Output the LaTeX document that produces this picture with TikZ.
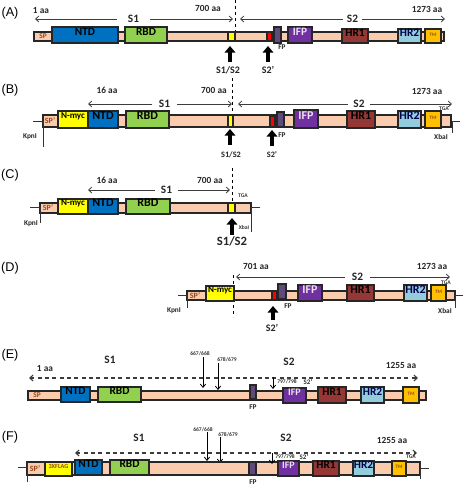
\documentclass[tikz,border=0pt]{standalone}
\usepackage{fontspec}
\setmainfont{Carlito}
\newfontfamily\arialf{Liberation Sans}
\usetikzlibrary{arrows.meta,fit}
\definecolor{peach}{RGB}{250,203,172}
\definecolor{ntdc}{RGB}{0,112,192}
\definecolor{rbdc}{RGB}{146,208,80}
\definecolor{ifpc}{RGB}{112,48,160}
\definecolor{hronec}{RGB}{149,55,53}
\definecolor{hrtwoc}{RGB}{147,205,221}
\definecolor{tmc}{RGB}{255,192,0}
\definecolor{fpc}{RGB}{96,74,123}
\definecolor{ylw}{RGB}{255,255,0}
\definecolor{spc}{RGB}{150,75,30}
\definecolor{arrc}{RGB}{60,60,60}
\newcommand\segm[5][]{\node[segbox,#1,fit={(#3) (#4)}] (#2) {#5};}
\begin{document}
\begin{tikzpicture}[x=0.75pt,y=-0.75pt,
  segbox/.style={draw=black!85, line width=0.85pt, inner sep=0pt, outer sep=0pt, font=\bfseries\fontsize{8.5}{8.5}\selectfont},
  bar/.style={fill=peach},
  ntd/.style={fill=ntdc, text=black},
  rbd/.style={fill=rbdc, text=black},
  ifp/.style={fill=ifpc, text=white!85!ifpc},
  hrone/.style={fill=hronec, text=black},
  hrtwo/.style={fill=hrtwoc, text=black!70!blue},
  tm/.style={fill=tmc, text=spc, font=\bfseries\fontsize{3.8}{3.8}\selectfont},
  fp/.style={fill=fpc},
  ylwb/.style={fill=ylw, text=black},
  redb/.style={fill=red},
  plab/.style={font=\arialf\fontsize{9.5}{9.5}\selectfont, inner sep=0pt},
  aa/.style={font=\bfseries\fontsize{7}{7}\selectfont, inner sep=0pt, text=black!85},
  slab/.style={font=\bfseries\fontsize{8.5}{8.5}\selectfont, inner sep=0pt, outer sep=0pt, text=black!85},
  sp/.style={font=\bfseries\fontsize{5.5}{5.5}\selectfont, inner sep=0pt, text=spc},
  small/.style={font=\bfseries\fontsize{5.5}{5.5}\selectfont, inner sep=0pt, text=black!85},
  tiny/.style={font=\bfseries\fontsize{4.2}{4.2}\selectfont, inner sep=0pt, text=black!80},
  cut/.style={font=\bfseries\fontsize{7.5}{7.5}\selectfont, inner sep=0pt, text=black!85},
  dbl/.style={draw=arrc, line width=0.6pt, -{Straight Barb[length=2.5pt,width=4.5pt]}},
  dsh/.style={draw=black, line width=0.7pt, dash pattern=on 2.5pt off 2pt},
  dshar/.style={draw=arrc, line width=0.8pt, dash pattern=on 3pt off 2.5pt, {Straight Barb[length=2.5pt,width=4.5pt]}-{Straight Barb[length=2.5pt,width=4.5pt]}},
  dn/.style={draw=black, line width=0.6pt, -{Straight Barb[length=2.5pt,width=4pt]}},
  bigup/.style={draw=black, line width=3.2pt, -{Triangle[length=5pt,width=8pt]}},
  thin/.style={draw=black!80, line width=0.7pt}
]
\useasboundingbox (0,0) rectangle (467,486);

%%%%%%%%%%%%%%%% Panel A
\node[plab] (A) at (10,13) {(A)};
\node[aa] (a1aa) at (41,11) {1 aa};
\node[aa] (a700) at (208,8) {700 aa};
\node[aa] (a1273) at (427,9) {1273 aa};
\node[slab, minimum width=24.75pt] (aS1) at (133.5,19) {S1};
\coordinate (aS1l) at (35,19); \coordinate (aS1r) at (233,19);
\draw[dbl] (aS1) -- (aS1l); \draw[dbl] (aS1) -- (aS1r);
\node[slab, minimum width=14.25pt] (aS2) at (352.5,19) {S2};
\coordinate (aS2l) at (240,19); \coordinate (aS2r) at (445,19);
\draw[dbl] (aS2) -- (aS2l); \draw[dbl] (aS2) -- (aS2r);
\coordinate (aDt) at (235,0); \coordinate (aDb) at (235,32);
\draw[dsh] (aDt) -- (aDb);
\segm[bar]{aBar}{34,32}{444,41}{}
\node[sp] (aSP) at (43,36.5) {SP};
\segm[ntd]{aNTD}{52,27}{118,43}{NTD}
\segm[rbd]{aRBD}{125,27}{167,43}{RBD}
\segm[ylwb]{aCl}{228,32}{235,41}{}
\segm[redb]{aRed}{267,32}{272,41}{}
\segm[fp]{aFP}{274,27}{281,43}{}
\node[small] (aFPl) at (282,47) {FP};
\segm[ifp]{aIFP}{288,27}{312,43}{IFP}
\segm[hrone]{aHR1}{342,29}{368,43}{HR1}
\segm[hrtwo]{aHR2}{398,29}{421,43}{HR2}
\segm[tm]{aTM}{425,29}{441,43}{TM}
\coordinate (aU1b) at (230,62); \coordinate (aU1t) at (230,46);
\draw[bigup] (aU1b) -- (aU1t);
\node[cut] (aU1l) at (228,70) {S1/S2};
\coordinate (aU2b) at (268,62); \coordinate (aU2t) at (268,46);
\draw[bigup] (aU2b) -- (aU2t);
\node[cut] (aU2l) at (268,70) {S2’};

%%%%%%%%%%%%%%%% Panel B
\begin{scope}[segbox/.append style={font=\bfseries\fontsize{9}{9}\selectfont}]
\node[plab] (B) at (10,90) {(B)};
\node[aa] (b16) at (107,90) {16 aa};
\node[aa] (b700) at (214,90) {700 aa};
\node[aa] (b1273) at (427,91) {1273 aa};
\node[slab, minimum width=18.75pt] (bS1) at (164.5,104) {S1};
\coordinate (bS1l) at (88,104); \coordinate (bS1r) at (232,104);
\draw[dbl] (bS1) -- (bS1l); \draw[dbl] (bS1) -- (bS1r);
\node[slab, minimum width=16.5pt] (bS2) at (359,104) {S2};
\coordinate (bS2l) at (238,104); \coordinate (bS2r) at (452,104);
\draw[dbl] (bS2) -- (bS2l); \draw[dbl] (bS2) -- (bS2r);
\coordinate (bDt) at (232,78); \coordinate (bDb) at (232,115);
\draw[dsh] (bDt) -- (bDb);
\segm[bar]{bBar}{43,115}{451,127}{}
\coordinate (bKl) at (33,121); \coordinate (bKc) at (43,121); \coordinate (bKb) at (43,147);
\draw[thin] (bKl) -- (bKc) -- (bKb);
\node[small] (bKpn) at (30,137) {KpnI};
\node[sp, font=\bfseries\fontsize{6}{6}\selectfont] (bSP) at (50,121) {SP’};
\segm[ylwb, font=\bfseries\fontsize{6.8}{6.8}\selectfont]{bMyc}{58,111}{88,128}{N-myc}
\segm[ntd]{bNTD}{88,111}{118,128}{NTD}
\segm[rbd]{bRBD}{126,111}{169,128}{RBD}
\segm[ylwb]{bCl}{228,115}{233,127}{}
\segm[redb]{bRed}{270,116}{275,127}{}
\segm[fp]{bFP}{277,112}{284,127}{}
\node[small] (bFPl) at (282,135) {FP};
\segm[ifp]{bIFP}{294,110}{318,128}{IFP}
\segm[hrone]{bHR1}{347,111}{375,128}{HR1}
\segm[hrtwo]{bHR2}{398,111}{421,128}{HR2}
\segm[tm]{bTM}{425,111}{441,128}{TM}
\coordinate (bXr) at (460,121); \coordinate (bXc) at (452,121); \coordinate (bXb) at (452,133);
\draw[thin] (bXr) -- (bXc) -- (bXb);
\node[tiny] (bTGA) at (444,109) {TGA};
\node[small] (bXba) at (441,137) {XbaI};
\coordinate (bU1b) at (230,145); \coordinate (bU1t) at (230,129);
\draw[bigup] (bU1b) -- (bU1t);
\node[small, font=\bfseries\fontsize{6.2}{6.2}\selectfont] (bU1l) at (231,155) {S1/S2};
\coordinate (bU2b) at (272,146); \coordinate (bU2t) at (272,130);
\draw[bigup] (bU2b) -- (bU2t);
\node[small, font=\bfseries\fontsize{6.2}{6.2}\selectfont] (bU2l) at (272,155) {S2’};
\end{scope}

%%%%%%%%%%%%%%%% Panel C
\begin{scope}[segbox/.append style={font=\bfseries\fontsize{9}{9}\selectfont}]
\node[plab] (C) at (10,175) {(C)};
\node[aa] (c16) at (107,180) {16 aa};
\node[aa] (c700) at (210,180) {700 aa};
\node[slab, minimum width=17.25pt] (cS1) at (166.5,190) {S1};
\coordinate (cS1l) at (88,190); \coordinate (cS1r) at (230,190);
\draw[dbl] (cS1) -- (cS1l); \draw[dbl] (cS1) -- (cS1r);
\coordinate (cDt) at (232,168); \coordinate (cDb) at (232,203);
\draw[dsh] (cDt) -- (cDb);
\segm[bar]{cBar}{40,203}{251,213}{}
\coordinate (cKl) at (30,207); \coordinate (cKc) at (40,207); \coordinate (cKb) at (40,223);
\draw[thin] (cKl) -- (cKc) -- (cKb);
\node[small] (cKpn) at (31,224) {KpnI};
\node[sp, font=\bfseries\fontsize{6}{6}\selectfont] (cSP) at (48,208) {SP’};
\segm[ylwb, font=\bfseries\fontsize{6.8}{6.8}\selectfont]{cMyc}{58,199}{88,214}{N-myc}
\segm[ntd]{cNTD}{88,199}{118,214}{NTD}
\segm[rbd]{cRBD}{126,199}{170,214}{RBD}
\segm[ylwb]{cCl}{228,203}{235,213}{}
\coordinate (cXr) at (260,207); \coordinate (cXc) at (251,207); \coordinate (cXb) at (251,232);
\draw[thin] (cXr) -- (cXc) -- (cXb);
\node[tiny] (cTGA) at (243,196) {TGA};
\node[tiny] (cXba) at (244,228) {XbaI};
\coordinate (cU1b) at (232,235); \coordinate (cU1t) at (232,218);
\draw[bigup] (cU1b) -- (cU1t);
\node[cut, font=\bfseries\fontsize{9.5}{9.5}\selectfont] (cU1l) at (232,241) {S1/S2};
\end{scope}

%%%%%%%%%%%%%%%% Panel D
\begin{scope}[segbox/.append style={font=\bfseries\fontsize{9}{9}\selectfont}]
\node[plab] (D) at (10,268) {(D)};
\node[aa] (d701) at (256,266) {701 aa};
\node[aa] (d1273) at (432,266) {1273 aa};
\node[slab, minimum width=18.75pt] (dS2) at (357.5,277) {S2};
\coordinate (dS2l) at (236,277); \coordinate (dS2r) at (450,277);
\draw[dbl] (dS2) -- (dS2l); \draw[dbl] (dS2) -- (dS2r);
\coordinate (dDt) at (233,275); \coordinate (dDb) at (233,317);
\draw[dsh] (dDt) -- (dDb);
\segm[bar]{dBar}{187,291}{455,300}{}
\coordinate (dKl) at (178,295); \coordinate (dKc) at (187,295); \coordinate (dKb) at (187,308);
\draw[thin] (dKl) -- (dKc) -- (dKb);
\node[small] (dKpn) at (174,311) {KpnI};
\node[sp, font=\bfseries\fontsize{6}{6}\selectfont] (dSP) at (195,296) {SP’};
\segm[ylwb, font=\bfseries\fontsize{6.8}{6.8}\selectfont]{dMyc}{206,286}{234,301}{N-myc}
\segm[redb]{dRed}{272,291}{277,300}{}
\segm[fp]{dFP}{278,284}{286,299}{}
\node[small] (dFPl) at (288,306) {FP};
\segm[ifp]{dIFP}{298,285}{322,301}{IFP}
\segm[hrone]{dHR1}{347,285}{374,301}{HR1}
\segm[hrtwo]{dHR2}{404,285}{427,301}{HR2}
\segm[tm]{dTM}{431,285}{446,301}{TM}
\coordinate (dXr) at (463,295); \coordinate (dXc) at (455,295); \coordinate (dXb) at (455,308);
\draw[thin] (dXr) -- (dXc) -- (dXb);
\node[tiny] (dTGA) at (446,283) {TGA};
\node[small] (dXba) at (445,311) {XbaI};
\coordinate (dU2b) at (273,320); \coordinate (dU2t) at (273,306);
\draw[bigup] (dU2b) -- (dU2t);
\node[cut] (dU2l) at (272,328) {S2’};
\end{scope}

%%%%%%%%%%%%%%%% Panel E
\begin{scope}[segbox/.append style={font=\bfseries\fontsize{8.5}{8.5}\selectfont}]
\node[plab] (E) at (10,355) {(E)};
\node[aa] (e1aa) at (45,368) {1 aa};
\node[slab] (eS1) at (110,360) {S1};
\node[slab] (eS2) at (289,362) {S2};
\node[aa] (e1255) at (401,365) {1255 aa};
\coordinate (eDl) at (29,378); \coordinate (eDr) at (418,378);
\draw[dshar] (eDl) -- (eDr);
\node[tiny] (e667) at (200,354) {667/668};
\coordinate (e667t) at (203,357); \coordinate (e667b) at (203,388);
\draw[dn] (e667t) -- (e667b);
\node[tiny] (e678) at (227,360) {678/679};
\coordinate (e678t) at (218,363); \coordinate (e678b) at (218,390);
\draw[dn] (e678t) -- (e678b);
\segm[bar]{eBar}{28,391}{426,400}{}
\node[sp] (eSP) at (37,395.5) {SP};
\segm[ntd]{eNTD}{61,387}{90,402}{NTD}
\segm[rbd]{eRBD}{98,387}{141,402}{RBD}
\segm[fp]{eFP}{250,385}{256,399}{}
\node[small] (eFPl) at (253,407) {FP};
\segm[ifp, font=\bfseries\fontsize{7.5}{7.5}\selectfont]{eIFP}{283,388}{306,403}{IFP}
\segm[hrone]{eHR1}{318,387}{346,403}{HR1}
\segm[hrtwo]{eHR2}{361,387}{384,403}{HR2}
\segm[tm]{eTM}{403,387}{419,403}{TM}
\coordinate (e797t) at (273,377); \coordinate (e797b) at (273,389);
\draw[dn] (e797t) -- (e797b);
\node[tiny] (e797) at (287,382) {797/798};
\node[tiny, font=\bfseries\fontsize{5.2}{5.2}\selectfont] (eS2p) at (308,382) {S2’};
\end{scope}

%%%%%%%%%%%%%%%% Panel F
\begin{scope}[segbox/.append style={font=\bfseries\fontsize{8.5}{8.5}\selectfont}]
\node[plab] (F) at (10,437) {(F)};
\node[slab] (fS1) at (139,438) {S1};
\node[slab] (fS2) at (286,438) {S2};
\node[aa] (f1255) at (392,440) {1255 aa};
\coordinate (fDl) at (75,453); \coordinate (fDr) at (417,453);
\draw[dshar] (fDl) -- (fDr);
\node[tiny] (f667) at (203,430) {667/668};
\coordinate (f667t) at (207,432); \coordinate (f667b) at (207,461);
\draw[dn] (f667t) -- (f667b);
\node[tiny] (f678) at (228,435) {678/679};
\coordinate (f678t) at (220,437); \coordinate (f678b) at (220,463);
\draw[dn] (f678t) -- (f678b);
\segm[bar]{fBar}{27,462}{420,475}{}
\coordinate (fKl) at (18,467); \coordinate (fKc) at (27,467); \coordinate (fKt) at (27,462); \coordinate (fKb) at (27,482);
\draw[thin] (fKl) -- (fKc); \draw[thin] (fKt) -- (fKb);
\node[sp, font=\bfseries\fontsize{6}{6}\selectfont] (fSP) at (35,468.5) {SP’};
\segm[ylwb, text=spc, font=\bfseries\fontsize{4.7}{4.7}\selectfont]{fFlag}{45,462}{72,476}{3XFLAG}
\segm[ntd]{fNTD}{75,460}{102,475}{NTD}
\segm[rbd]{fRBD}{110,460}{149,475}{RBD}
\segm[fp]{fFP}{249,462}{256,475}{}
\node[small] (fFPl) at (253,482) {FP};
\segm[ifp, font=\bfseries\fontsize{7.5}{7.5}\selectfont]{fIFP}{278,461}{299,476}{IFP}
\segm[hrone]{fHR1}{313,461}{339,476}{HR1}
\segm[hrtwo]{fHR2}{353,461}{374,476}{HR2}
\segm[tm]{fTM}{392,461}{406,476}{TM}
\coordinate (fXr) at (429,468); \coordinate (fXc) at (420,468); \coordinate (fXt) at (420,462); \coordinate (fXb) at (420,479);
\draw[thin] (fXc) -- (fXr); \draw[thin] (fXt) -- (fXb);
\node[tiny] (fTGA) at (411,457) {TGA};
\coordinate (f797t) at (272,453); \coordinate (f797b) at (272,464);
\draw[dn] (f797t) -- (f797b);
\node[tiny] (f797) at (285,457) {797/798};
\node[tiny, font=\bfseries\fontsize{5.2}{5.2}\selectfont] (fS2p) at (304,457) {S2’};
\end{scope}
\end{tikzpicture}
\end{document}
